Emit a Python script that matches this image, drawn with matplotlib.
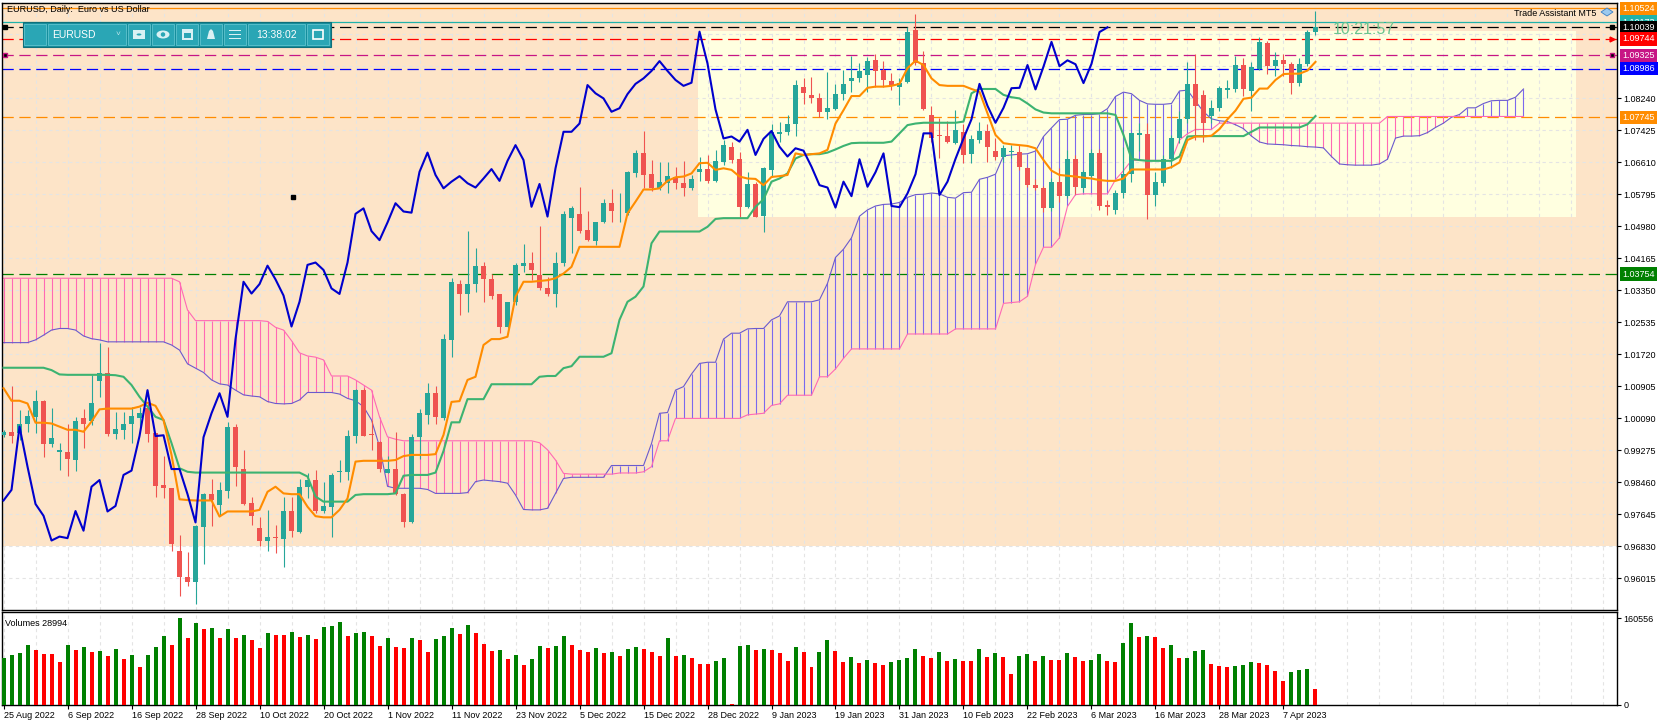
import numpy as np
import matplotlib
matplotlib.use('Agg')
import matplotlib.pyplot as plt
from matplotlib.patches import Rectangle, Ellipse, Circle, Polygon
from matplotlib.transforms import blended_transform_factory

plt.rcParams['font.family'] = ['Liberation Sans', 'DejaVu Sans']
plt.rcParams['font.size'] = 6.5

# ---- daily candles EURUSD, 25 Aug 2022 .. 13 Apr 2023 ----
o = [0.9965, 0.9974, 0.9970, 0.9993, 1.0012, 1.0052, 0.9943, 0.9922, 0.9922, 0.9902,
     1.0008, 1.0001, 1.0104, 1.0123, 0.9967, 0.9979, 0.9994, 1.0008, 1.0034, 0.9970,
     0.9838, 0.9830, 0.9670, 0.9605, 0.9592, 0.9732, 0.9815, 0.9787, 0.9824, 0.9987,
     0.9879, 0.9792, 0.9730, 0.9697, 0.9707, 0.9702, 0.9772, 0.9719, 0.9834, 0.9851,
     0.9771, 0.9783, 0.9872, 0.9872, 0.9963, 1.0080, 0.9967, 0.9947, 0.9870, 0.9879,
     0.9815, 0.9743, 0.9960, 1.0017, 1.0072, 1.0008, 1.0208, 1.0350, 1.0326, 1.0350,
     1.0397, 1.0362, 1.0325, 1.0242, 1.0305, 1.0397, 1.0405, 1.0373, 1.0339, 1.0325,
     1.0403, 1.0518, 1.0529, 1.0488, 1.0461, 1.0507, 1.0556, 1.0530, 1.0530, 1.0634,
     1.0685, 1.0630, 1.0594, 1.0608, 1.0624, 1.0607, 1.0594, 1.0636, 1.0643, 1.0613,
     1.0662, 1.0698, 1.0668, 1.0547, 1.0605, 1.0524, 1.0641, 1.0732, 1.0737, 1.0759,
     1.0851, 1.0832, 1.0823, 1.0789, 1.0795, 1.0834, 1.0868, 1.0874, 1.0883, 1.0921,
     1.0895, 1.0867, 1.0851, 1.0866, 1.0996, 1.0912, 1.0782, 1.0730, 1.0727, 1.0710,
     1.0738, 1.0681, 1.0717, 1.0740, 1.0690, 1.0675, 1.0687, 1.0687, 1.0645, 1.0602,
     1.0594, 1.0545, 1.0611, 1.0574, 1.0668, 1.0596, 1.0625, 1.0683, 1.0551, 1.0540,
     1.0581, 1.0630, 1.0730, 1.0733, 1.0577, 1.0607, 1.0669, 1.0721, 1.0770, 1.0860,
     1.0832, 1.0778, 1.0798, 1.0845, 1.0846, 1.0908, 1.0843, 1.0897, 1.0965, 1.0905,
     1.0920, 1.0910, 1.0862, 1.0911, 1.0992]
h = [0.9979, 1.0090, 1.0029, 1.0029, 1.0080, 1.0055, 1.0034, 0.9945, 0.9995, 1.0012,
     1.0031, 1.0118, 1.0199, 1.0190, 1.0025, 1.0025, 1.0036, 1.0036, 1.0051, 0.9970,
     0.9911, 0.9832, 0.9711, 0.9668, 0.9737, 0.9817, 0.9854, 0.9845, 1.0000, 0.9995,
     0.9928, 0.9809, 0.9758, 0.9775, 0.9737, 0.9809, 0.9809, 0.9853, 0.9868, 0.9877,
     0.9847, 0.9868, 0.9902, 0.9979, 1.0082, 1.0085, 1.0004, 0.9950, 0.9911, 0.9974,
     0.9817, 0.9968, 1.0033, 1.0097, 1.0091, 1.0222, 1.0365, 1.0360, 1.0485, 1.0441,
     1.0407, 1.0377, 1.0325, 1.0305, 1.0403, 1.0452, 1.0431, 1.0498, 1.0369, 1.0433,
     1.0535, 1.0549, 1.0597, 1.0536, 1.0509, 1.0567, 1.0591, 1.0581, 1.0638, 1.0692,
     1.0740, 1.0666, 1.0662, 1.0662, 1.0649, 1.0664, 1.0628, 1.0675, 1.0679, 1.0692,
     1.0717, 1.0713, 1.0686, 1.0636, 1.0611, 1.0649, 1.0759, 1.0764, 1.0781, 1.0870,
     1.0874, 1.0878, 1.0836, 1.0891, 1.0860, 1.0895, 1.0931, 1.0912, 1.0929, 1.0935,
     1.0919, 1.0887, 1.0874, 1.1006, 1.1038, 1.0945, 1.0804, 1.0772, 1.0765, 1.0793,
     1.0759, 1.0730, 1.0764, 1.0759, 1.0721, 1.0704, 1.0704, 1.0704, 1.0649, 1.0618,
     1.0600, 1.0620, 1.0645, 1.0691, 1.0680, 1.0640, 1.0695, 1.0695, 1.0565, 1.0590,
     1.0700, 1.0735, 1.0760, 1.0760, 1.0635, 1.0680, 1.0730, 1.0790, 1.0917, 1.0935,
     1.0845, 1.0820, 1.0855, 1.0870, 1.0931, 1.0925, 1.0915, 1.0980, 1.0970, 1.0940,
     1.0935, 1.0915, 1.0925, 1.0998, 1.1045]
l = [0.9961, 0.9946, 0.9953, 0.9974, 0.9972, 0.9910, 0.9936, 0.9877, 0.9862, 0.9875,
     0.9932, 0.9991, 1.0062, 0.9964, 0.9955, 0.9955, 0.9945, 0.9979, 0.9949, 0.9809,
     0.9804, 0.9669, 0.9555, 0.9580, 0.9536, 0.9636, 0.9734, 0.9762, 0.9804, 0.9837,
     0.9787, 0.9737, 0.9683, 0.9669, 0.9666, 0.9630, 0.9705, 0.9717, 0.9804, 0.9766,
     0.9766, 0.9705, 0.9847, 0.9851, 0.9945, 0.9962, 0.9928, 0.9872, 0.9868, 0.9813,
     0.9731, 0.9742, 0.9904, 0.9993, 0.9993, 1.0004, 1.0165, 1.0271, 1.0280, 1.0331,
     1.0305, 1.0312, 1.0225, 1.0239, 1.0298, 1.0382, 1.0360, 1.0335, 1.0320, 1.0291,
     1.0396, 1.0428, 1.0481, 1.0460, 1.0450, 1.0505, 1.0507, 1.0509, 1.0526, 1.0622,
     1.0594, 1.0588, 1.0590, 1.0583, 1.0591, 1.0575, 1.0590, 1.0613, 1.0607, 1.0611,
     1.0653, 1.0658, 1.0522, 1.0543, 1.0520, 1.0482, 1.0624, 1.0713, 1.0730, 1.0727,
     1.0810, 1.0812, 1.0775, 1.0770, 1.0793, 1.0820, 1.0840, 1.0866, 1.0840, 1.0853,
     1.0851, 1.0844, 1.0806, 1.0863, 1.0908, 1.0793, 1.0713, 1.0670, 1.0709, 1.0707,
     1.0658, 1.0658, 1.0709, 1.0662, 1.0666, 1.0662, 1.0670, 1.0640, 1.0598, 1.0590,
     1.0534, 1.0535, 1.0560, 1.0570, 1.0580, 1.0585, 1.0620, 1.0540, 1.0525, 1.0528,
     1.0570, 1.0610, 1.0690, 1.0516, 1.0550, 1.0600, 1.0645, 1.0710, 1.0760, 1.0717,
     1.0713, 1.0760, 1.0790, 1.0825, 1.0840, 1.0830, 1.0790, 1.0895, 1.0885, 1.0880,
     1.0880, 1.0835, 1.0855, 1.0905, 1.0985]
c = [0.9974, 0.9964, 0.9994, 1.0015, 1.0052, 0.9944, 0.9958, 0.9928, 0.9905, 1.0001,
     0.9994, 1.0046, 1.0123, 0.9967, 0.9981, 0.9995, 1.0015, 1.0021, 0.9969, 0.9836,
     0.9832, 0.9688, 0.9605, 0.9592, 0.9734, 0.9815, 0.9799, 0.9826, 0.9987, 0.9885,
     0.9790, 0.9760, 0.9697, 0.9707, 0.9703, 0.9772, 0.9722, 0.9834, 0.9851, 0.9771,
     0.9785, 0.9864, 0.9875, 0.9963, 1.0080, 0.9963, 0.9965, 0.9879, 0.9879, 0.9815,
     0.9743, 0.9960, 1.0021, 1.0072, 1.0012, 1.0210, 1.0356, 1.0326, 1.0350, 1.0397,
     1.0362, 1.0321, 1.0242, 1.0305, 1.0399, 1.0405, 1.0386, 1.0339, 1.0325, 1.0405,
     1.0529, 1.0543, 1.0485, 1.0462, 1.0507, 1.0556, 1.0535, 1.0532, 1.0636, 1.0685,
     1.0628, 1.0594, 1.0611, 1.0625, 1.0607, 1.0596, 1.0619, 1.0643, 1.0613, 1.0664,
     1.0704, 1.0666, 1.0547, 1.0605, 1.0522, 1.0645, 1.0738, 1.0738, 1.0759, 1.0857,
     1.0836, 1.0823, 1.0789, 1.0798, 1.0834, 1.0860, 1.0874, 1.0893, 1.0918, 1.0893,
     1.0870, 1.0855, 1.0863, 1.0993, 1.0912, 1.0795, 1.0721, 1.0726, 1.0713, 1.0743,
     1.0679, 1.0720, 1.0740, 1.0700, 1.0675, 1.0696, 1.0690, 1.0649, 1.0602, 1.0596,
     1.0545, 1.0611, 1.0574, 1.0668, 1.0598, 1.0635, 1.0683, 1.0549, 1.0546, 1.0581,
     1.0630, 1.0734, 1.0734, 1.0577, 1.0611, 1.0669, 1.0721, 1.0770, 1.0860, 1.0804,
     1.0761, 1.0799, 1.0849, 1.0850, 1.0908, 1.0846, 1.0904, 1.0967, 1.0905, 1.0920,
     1.0910, 1.0862, 1.0911, 1.0992, 1.1004]
vol = [86300, 92600, 96400, 111500, 102000, 94500, 94400, 79400, 111500, 102000,
       107700, 98300, 98800, 90700, 104000, 85000, 92600, 69900, 92600, 107700,
       126600, 111500, 160556, 122900, 151200, 139900, 141800, 122900, 139900, 122900,
       128500, 119100, 105800, 132300, 128500, 128400, 134200, 124700, 128500, 121000,
       143600, 145500, 153100, 126600, 132300, 134200, 126600, 109600, 122900, 107700,
       105800, 122900, 119100, 98300, 121000, 126600, 141800, 130400, 147400, 132300,
       113400, 100200, 102000, 85000, 92600, 73700, 85000, 109600, 105800, 109700,
       126600, 111500, 102000, 98300, 105800, 96400, 98300, 90700, 104000, 107700,
       104000, 98300, 90700, 122900, 90700, 92600, 86900, 75600, 75000, 81300,
       86900, 2000, 109600, 111500, 102000, 102600, 101400, 96400, 81300, 107700,
       98300, 69900, 98300, 119100, 100200, 79400, 88800, 77500, 83200, 77500,
       73700, 79400, 83200, 86900, 104000, 90700, 86900, 98300, 81300, 85000,
       81300, 81200, 104000, 88800, 96400, 88800, 56700, 90700, 94500, 81300,
       90700, 83200, 83100, 96400, 88800, 81300, 83200, 94500, 81300, 79400,
       115300, 151200, 124700, 126600, 124700, 105800, 111500, 86900, 87000, 100200,
       102000, 75600, 71800, 69900, 71800, 73700, 79400, 77500, 73700, 62400,
       45000, 60000, 64000, 66000, 28994]

# ---- Ichimoku lines ----
tenkan = [1.0085, 1.0053, 1.0053, 1.0046, 0.9997, 0.9997, 0.9995, 0.9987, 0.9979, 0.9979,
          0.9974, 1.0000, 1.0031, 1.0033, 1.0033, 1.0033, 1.0033, 1.0038, 1.0048, 1.0040,
          1.0004, 0.9915, 0.9802, 0.9800, 0.9799, 0.9799, 0.9799, 0.9758, 0.9771, 0.9771,
          0.9771, 0.9771, 0.9775, 0.9821, 0.9834, 0.9817, 0.9815, 0.9815, 0.9783, 0.9759,
          0.9756, 0.9756, 0.9775, 0.9804, 0.9898, 0.9900, 0.9900, 0.9900, 0.9900, 0.9902,
          0.9912, 0.9915, 0.9915, 0.9915, 0.9917, 0.9966, 1.0050, 1.0052, 1.0106, 1.0114,
          1.0195, 1.0210, 1.0210, 1.0216, 1.0318, 1.0356, 1.0356, 1.0358, 1.0360, 1.0365,
          1.0377, 1.0394, 1.0445, 1.0445, 1.0445, 1.0445, 1.0445, 1.0445, 1.0530, 1.0560,
          1.0591, 1.0591, 1.0594, 1.0613, 1.0622, 1.0624, 1.0632, 1.0658, 1.0659, 1.0641,
          1.0645, 1.0641, 1.0624, 1.0619, 1.0618, 1.0602, 1.0623, 1.0625, 1.0628, 1.0683,
          1.0679, 1.0681, 1.0683, 1.0692, 1.0759, 1.0793, 1.0829, 1.0829, 1.0850, 1.0853,
          1.0853, 1.0855, 1.0860, 1.0900, 1.0919, 1.0908, 1.0874, 1.0857, 1.0855, 1.0855,
          1.0855, 1.0847, 1.0840, 1.0785, 1.0730, 1.0709, 1.0706, 1.0704, 1.0702, 1.0696,
          1.0666, 1.0639, 1.0628, 1.0626, 1.0624, 1.0621, 1.0619, 1.0615, 1.0613, 1.0613,
          1.0619, 1.0642, 1.0642, 1.0642, 1.0642, 1.0642, 1.0648, 1.0660, 1.0717, 1.0726,
          1.0726, 1.0728, 1.0745, 1.0770, 1.0792, 1.0822, 1.0825, 1.0848, 1.0848, 1.0870,
          1.0885, 1.0886, 1.0886, 1.0894, 1.0916]
kijun = [1.0137, 1.0137, 1.0137, 1.0137, 1.0137, 1.0137, 1.0131, 1.0120, 1.0119, 1.0119,
         1.0119, 1.0119, 1.0119, 1.0119, 1.0118, 1.0114, 1.0093, 1.0063, 1.0038, 1.0012,
         1.0004, 0.9945, 0.9881, 0.9872, 0.9870, 0.9870, 0.9870, 0.9870, 0.9870, 0.9870,
         0.9870, 0.9870, 0.9870, 0.9870, 0.9870, 0.9870, 0.9870, 0.9870, 0.9860, 0.9809,
         0.9796, 0.9796, 0.9796, 0.9796, 0.9813, 0.9815, 0.9815, 0.9815, 0.9815, 0.9817,
         0.9862, 0.9864, 0.9864, 0.9864, 0.9870, 0.9925, 0.9998, 0.9998, 1.0057, 1.0057,
         1.0057, 1.0095, 1.0095, 1.0095, 1.0095, 1.0095, 1.0095, 1.0114, 1.0116, 1.0116,
         1.0136, 1.0141, 1.0165, 1.0165, 1.0165, 1.0165, 1.0174, 1.0259, 1.0305, 1.0318,
         1.0344, 1.0454, 1.0484, 1.0484, 1.0484, 1.0484, 1.0484, 1.0484, 1.0496, 1.0516,
         1.0518, 1.0518, 1.0518, 1.0518, 1.0547, 1.0566, 1.0611, 1.0619, 1.0632, 1.0670,
         1.0679, 1.0681, 1.0681, 1.0685, 1.0693, 1.0702, 1.0709, 1.0710, 1.0710, 1.0710,
         1.0710, 1.0713, 1.0734, 1.0755, 1.0759, 1.0761, 1.0761, 1.0761, 1.0761, 1.0761,
         1.0764, 1.0836, 1.0847, 1.0847, 1.0847, 1.0832, 1.0826, 1.0823, 1.0810, 1.0795,
         1.0787, 1.0785, 1.0785, 1.0785, 1.0785, 1.0785, 1.0785, 1.0785, 1.0785, 1.0781,
         1.0730, 1.0669, 1.0666, 1.0664, 1.0664, 1.0664, 1.0664, 1.0675, 1.0726, 1.0727,
         1.0727, 1.0727, 1.0727, 1.0727, 1.0727, 1.0727, 1.0738, 1.0749, 1.0749, 1.0749,
         1.0749, 1.0749, 1.0749, 1.0757, 1.0778]
span_a = [1.0201, 1.0201, 1.0201, 1.0201, 1.0208, 1.0220, 1.0233, 1.0237, 1.0237, 1.0233,
          1.0218, 1.0211, 1.0208, 1.0203, 1.0203, 1.0203, 1.0203, 1.0203, 1.0203, 1.0203,
          1.0203, 1.0195, 1.0182, 1.0147, 1.0136, 1.0125, 1.0106, 1.0096, 1.0093, 1.0080,
          1.0068, 1.0065, 1.0063, 1.0051, 1.0046, 1.0045, 1.0046, 1.0055, 1.0074, 1.0074,
          1.0074, 1.0074, 1.0070, 1.0059, 1.0053, 1.0038, 1.0004, 0.9936, 0.9835, 0.9830,
          0.9830, 0.9830, 0.9830, 0.9827, 0.9817, 0.9817, 0.9817, 0.9817, 0.9819, 0.9847,
          0.9851, 0.9849, 0.9847, 0.9843, 0.9813, 0.9776, 0.9775, 0.9775, 0.9779, 0.9817,
          0.9855, 0.9858, 0.9858, 0.9858, 0.9858, 0.9858, 0.9888, 0.9888, 0.9888, 0.9888,
          0.9888, 0.9944, 1.0021, 1.0023, 1.0080, 1.0089, 1.0121, 1.0148, 1.0151, 1.0151,
          1.0210, 1.0225, 1.0225, 1.0236, 1.0237, 1.0237, 1.0259, 1.0269, 1.0305, 1.0305,
          1.0305, 1.0305, 1.0310, 1.0352, 1.0418, 1.0439, 1.0468, 1.0523, 1.0539, 1.0549,
          1.0553, 1.0554, 1.0558, 1.0571, 1.0578, 1.0579, 1.0582, 1.0580, 1.0571, 1.0569,
          1.0583, 1.0584, 1.0617, 1.0622, 1.0630, 1.0677, 1.0679, 1.0681, 1.0682, 1.0689,
          1.0726, 1.0748, 1.0769, 1.0770, 1.0780, 1.0782, 1.0782, 1.0784, 1.0797, 1.0828,
          1.0839, 1.0835, 1.0818, 1.0809, 1.0808, 1.0808, 1.0810, 1.0842, 1.0844, 1.0816,
          1.0789, 1.0771, 1.0766, 1.0764, 1.0756, 1.0746, 1.0727, 1.0712, 1.0707, 1.0706,
          1.0705, 1.0703, 1.0702, 1.0700, 1.0699, 1.0697, 1.0675, 1.0656, 1.0654, 1.0653,
          1.0653, 1.0653, 1.0656, 1.0668, 1.0722, 1.0727, 1.0727, 1.0728, 1.0736, 1.0749,
          1.0760, 1.0775, 1.0782, 1.0799, 1.0799, 1.0810, 1.0817, 1.0818, 1.0818, 1.0826,
          1.0847]
span_b = [1.0365, 1.0365, 1.0365, 1.0365, 1.0365, 1.0365, 1.0365, 1.0365, 1.0365, 1.0365,
          1.0365, 1.0365, 1.0365, 1.0365, 1.0365, 1.0365, 1.0365, 1.0365, 1.0365, 1.0365,
          1.0365, 1.0365, 1.0356, 1.0284, 1.0257, 1.0257, 1.0257, 1.0257, 1.0257, 1.0257,
          1.0257, 1.0257, 1.0257, 1.0255, 1.0240, 1.0233, 1.0206, 1.0175, 1.0167, 1.0164,
          1.0157, 1.0116, 1.0116, 1.0116, 1.0106, 1.0093, 1.0080, 1.0012, 0.9961, 0.9955,
          0.9951, 0.9951, 0.9951, 0.9951, 0.9951, 0.9951, 0.9951, 0.9951, 0.9951, 0.9951,
          0.9951, 0.9951, 0.9951, 0.9951, 0.9951, 0.9951, 0.9951, 0.9946, 0.9928, 0.9902,
          0.9868, 0.9866, 0.9866, 0.9866, 0.9866, 0.9866, 0.9866, 0.9869, 0.9869, 0.9869,
          0.9872, 0.9885, 0.9951, 0.9951, 1.0008, 1.0008, 1.0008, 1.0008, 1.0008, 1.0008,
          1.0008, 1.0008, 1.0008, 1.0017, 1.0019, 1.0021, 1.0041, 1.0045, 1.0067, 1.0067,
          1.0067, 1.0067, 1.0114, 1.0114, 1.0134, 1.0161, 1.0185, 1.0185, 1.0185, 1.0185,
          1.0185, 1.0185, 1.0185, 1.0223, 1.0223, 1.0223, 1.0223, 1.0223, 1.0223, 1.0236,
          1.0236, 1.0236, 1.0236, 1.0236, 1.0236, 1.0301, 1.0303, 1.0305, 1.0319, 1.0400,
          1.0444, 1.0444, 1.0468, 1.0548, 1.0578, 1.0580, 1.0580, 1.0580, 1.0580, 1.0616,
          1.0639, 1.0665, 1.0665, 1.0665, 1.0665, 1.0665, 1.0665, 1.0717, 1.0733, 1.0744,
          1.0744, 1.0744, 1.0760, 1.0760, 1.0760, 1.0760, 1.0760, 1.0760, 1.0760, 1.0760,
          1.0760, 1.0760, 1.0760, 1.0760, 1.0760, 1.0760, 1.0760, 1.0760, 1.0760, 1.0760,
          1.0760, 1.0760, 1.0760, 1.0777, 1.0777, 1.0777, 1.0777, 1.0777, 1.0777, 1.0777,
          1.0777, 1.0777, 1.0777, 1.0777, 1.0777, 1.0777, 1.0777, 1.0777, 1.0777, 1.0777,
          1.0777]
chikou_shift = 26

# ---- axis text ----
date_pos = [0, 8, 16, 24, 32, 40, 48, 56, 64, 72, 80, 88, 96, 104, 112, 120, 128, 136, 144, 152, 160]
date_labels = ['25 Aug 2022', '6 Sep 2022', '16 Sep 2022', '28 Sep 2022', '10 Oct 2022',
               '20 Oct 2022', '1 Nov 2022', '11 Nov 2022', '23 Nov 2022', '5 Dec 2022',
               '15 Dec 2022', '28 Dec 2022', '9 Jan 2023', '19 Jan 2023', '31 Jan 2023',
               '10 Feb 2023', '22 Feb 2023', '6 Mar 2023', '16 Mar 2023', '28 Mar 2023',
               '7 Apr 2023']
price_ticks = [0.96015, 0.96830, 0.97645, 0.98460, 0.99275, 1.00090, 1.00905, 1.01720,
               1.02535, 1.03350, 1.04165, 1.04980, 1.05795, 1.06610, 1.07425, 1.08240]
grid_extra = [1.09055, 1.09870]
vol_ticks = [0, 160556]

# ---- horizontal objects: price, colour, style ----
levels = [1.10524, 1.10173, 1.10039, 1.09744, 1.09325, 1.08986, 1.07745, 1.03754]
level_cols = ['#FF8C00', '#20B2AA', '#000000', '#FF0000', '#C71585', '#0000FF', '#FF8C00', '#008000']
level_dash = [False, False, True, True, True, True, True, True]

zone_low = 0.96830                      # peach zone lower edge
box_x0, box_x1, box_bot, box_top = 86.8, 196.6, 1.0521, 1.0995   # yellow box

W, H = 1670, 726
fig = plt.figure(figsize=(W / 100, H / 100), dpi=100)


def fbox(x0, y0, x1, y1):
    return [x0 / W, 1 - y1 / H, (x1 - x0) / W, (y1 - y0) / H]


ax = fig.add_axes(fbox(2, 3, 1617, 610))
axv = fig.add_axes(fbox(2, 612, 1617, 705))
xlim = (-0.19, 201.69)
for a in (ax, axv):
    a.set_xlim(*xlim)
    a.set_facecolor('white')
    for s in a.spines.values():
        s.set_color('black')
        s.set_linewidth(1.0)
ax.set_ylim(0.9520, 1.1066)
axv.set_ylim(0, 171629)

# backgrounds
ax.add_patch(Rectangle((xlim[0], zone_low), xlim[1] - xlim[0], 0.3, fc='#FDE4C8', ec='none', zorder=0))
ax.add_patch(Rectangle((box_x0, box_bot), box_x1 - box_x0, box_top - box_bot, fc='#FFFFE0', ec='none', zorder=0.5))

# grid
gkw = dict(color='#E4E4E4', lw=0.8, dashes=(3, 3), zorder=1)
for p in price_ticks + grid_extra:
    ax.axhline(p, **gkw)
for g in range(0, 202, 4):
    ax.axvline(g, **gkw)
    axv.axvline(g, **gkw)

# level lines
for p, col, d in zip(levels, level_cols, level_dash):
    if d:
        ax.axhline(p, color=col, lw=0.9, dashes=(9, 4.5), zorder=1.8)
    else:
        ax.axhline(p, color=col, lw=0.9, zorder=1.8)

# cloud
A = np.array(span_a)
B = np.array(span_b)
cx = np.arange(len(A))
hatch_cols = np.where(A >= B, '#7B68EE', '#FF69B4')
ax.vlines(cx, np.minimum(A, B), np.maximum(A, B), colors=hatch_cols, lw=0.8, zorder=2)
ax.plot(cx, A, color='#6A5ACD', lw=0.8, zorder=2.2)
ax.plot(np.arange(len(B)), B, color='#FF69B4', lw=0.8, zorder=2.2)

# candles
O, Hh, L, C = map(np.array, (o, h, l, c))
x = np.arange(len(C))
up = C >= O
ccol = np.where(up, '#26A69A', '#EF5350')
ax.vlines(x, L, Hh, colors=ccol, lw=0.8, zorder=3)
body = np.maximum(np.abs(C - O), 0.00007)
ax.bar(x, body, bottom=np.minimum(O, C), width=0.62, color=ccol, lw=0, zorder=3.1)

# indicator lines
ax.plot(np.arange(len(kijun)), kijun, color='#3CB371', lw=1.5, zorder=4)
ax.plot(np.arange(len(tenkan)), tenkan, color='#FF8C00', lw=1.5, zorder=4.1)
ch = C[chikou_shift:]
ax.plot(np.arange(len(ch)), ch, color='#0000CD', lw=1.5, zorder=4.2)

# object anchors
ax.plot([0.19], [levels[2]], marker='s', ms=3.5, color='black', zorder=6, clip_on=False)
ax.plot([0.19], [levels[4]], marker='s', ms=3.5, color='black', mec='#C71585', zorder=6, clip_on=False)
ax.plot([201.1], [levels[2]], marker='s', ms=3.5, color='black', zorder=6, clip_on=False)
ax.plot([201.1], [levels[3]], marker='>', ms=3.5, color='#FF0000', zorder=6, clip_on=False)
ax.plot([201.1], [levels[4]], marker='s', ms=3.5, color='black', mec='#C71585', zorder=6, clip_on=False)
ax.plot([36.2], [1.0572], marker='s', ms=3, color='black', zorder=6)

# price axis
ax.yaxis.tick_right()
ax.set_yticks(price_ticks)
ax.set_yticklabels([f'{p:.5f}' for p in price_ticks])
ax.tick_params(axis='y', length=3, pad=1.5, labelsize=6.5, colors='black')
ax.set_xticks([])
tr = blended_transform_factory(ax.transAxes, ax.transData)
for p, col in zip(levels, level_cols):
    ax.text(1.0035, p, f'{p:.5f}', transform=tr, ha='left', va='center', fontsize=6.5,
            color='white', clip_on=False, zorder=10,
            bbox=dict(boxstyle='square,pad=0.25', fc=col, ec='none'))

# volumes
V = np.array(vol)
vx = np.arange(len(V))
vup = np.concatenate([[True], V[1:] > V[:-1]])
axv.bar(vx, V, width=0.5, color=np.where(vup, '#008000', '#FF0000'), lw=0, zorder=3)
axv.yaxis.tick_right()
axv.set_yticks(vol_ticks)
axv.set_yticklabels([str(v) for v in vol_ticks])
axv.tick_params(axis='y', length=3, pad=1.5, labelsize=6.5)
axv.set_xticks(date_pos)
axv.set_xticklabels(date_labels, ha='left')
axv.tick_params(axis='x', length=3, pad=1.5, labelsize=6.5)
axv.text(0.002, 0.93, f'Volumes {vol[-1]}', transform=axv.transAxes, fontsize=6.5, va='top', ha='left')

# header texts
fig.text(7 / W, 1 - 10 / H, 'EURUSD, Daily:  Euro vs US Dollar', fontsize=6.5, va='center', ha='left')
fig.text(1596 / W, 1 - 13 / H, 'Trade Assistant MT5', fontsize=6.5, va='center', ha='right')
fig.add_artist(Polygon([(1601 / W, 1 - 12 / H), (1607 / W, 1 - 8 / H), (1613 / W, 1 - 12 / H),
                        (1607 / W, 1 - 16 / H)], closed=True, transform=fig.transFigure,
                       fc='#9CC9EE', ec='#3B7FC4', lw=0.6))
fig.text(1333 / W, 1 - 29 / H, '10:21:57', fontsize=11.5, va='center', ha='left', color='#6CC48F')


# toolbar
def frect(x0, y0, x1, y1, **kw):
    fig.add_artist(Rectangle((x0 / W, 1 - y1 / H), (x1 - x0) / W, (y1 - y0) / H,
                             transform=fig.transFigure, **kw))


frect(23, 22, 331, 47, fc='#168E9C', ec='#0F6F7A', lw=0.8)
for bx0, bx1 in [(24, 46), (48, 126), (128, 150), (152, 174), (176, 198), (200, 222),
                 (224, 246), (248, 305), (307, 329)]:
    frect(bx0, 24, bx1, 45, fc='#2AA6B5', ec='#5FC3CF', lw=0.6)
fig.text(52 / W, 1 - 34.5 / H, 'EURUSD', fontsize=7.5, color='white', va='center', ha='left')
fig.text(118 / W, 1 - 34.5 / H, '˅', fontsize=6, color='#BFE7EC', va='center', ha='center')
fig.text(276.5 / W, 1 - 34.5 / H, '13:38:02', fontsize=7.5, color='white', va='center', ha='center')
# camera
frect(133, 30, 145, 39, fc='#D9F1F4', ec='none')
fig.add_artist(Circle((139 / W, 1 - 34.5 / H), 2.4 / W, transform=fig.transFigure, fc='#2AA6B5', ec='none'))
# eye
fig.add_artist(Ellipse((163 / W, 1 - 34.5 / H), 13 / W, 8 / H, transform=fig.transFigure, fc='#D9F1F4', ec='none'))
fig.add_artist(Ellipse((163 / W, 1 - 34.5 / H), 4.5 / W, 4.5 / H, transform=fig.transFigure, fc='#2AA6B5', ec='none'))
# calendar
frect(182, 29, 193, 40, fc='#D9F1F4', ec='none')
frect(184, 33, 191, 38, fc='#2AA6B5', ec='none')
# bell
fig.add_artist(Polygon([(207 / W, 1 - 39 / H), (209 / W, 1 - 31 / H), (211 / W, 1 - 29 / H), (213 / W, 1 - 31 / H),
                        (215 / W, 1 - 39 / H)], closed=True, transform=fig.transFigure, fc='#D9F1F4', ec='none'))
# menu
for yy in (30.5, 34.5, 38.5):
    frect(229, yy - 0.8, 241, yy + 0.8, fc='#D9F1F4', ec='none')
# restore square
frect(313, 30, 323, 39, fc='none', ec='white', lw=1.2)

fig.savefig('out.png', dpi=100)
